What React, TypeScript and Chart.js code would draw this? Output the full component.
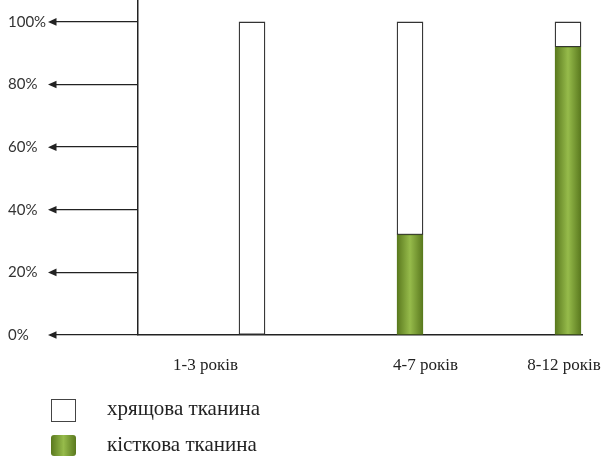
import React, { useEffect, useRef } from 'react';
import { Chart, registerables } from 'chart.js';

Chart.register(...registerables);

// ---- data ----
const categories = ['1-3 років', '4-7 років', '8-12 років'];
const seriesNames = ['хрящова тканина', 'кісткова тканина'];
const cartilage = [100, 68, 8];
const bone = [0, 32, 92];
const yTickValues = [0, 20, 40, 60, 80, 100];

// ---- layout (not data) ----
const X_MIN = 0.2785;
const X_MAX = 3.0886;
const labelShift = [-0.294, 0.098, -0.025];
const BAR_W = 26;

const greenStops: [number, string][] = [
  [0, '#5a791e'],
  [0.5, '#96bb4b'],
  [1, '#5a791e'],
];

export default function App() {
  const ref = useRef<HTMLCanvasElement>(null);

  useEffect(() => {
    document.body.style.margin = '0';
    const canvas = ref.current;
    if (!canvas) return;

    const arrows = {
      id: 'arrows',
      afterDraw(chart: any) {
        const ys = chart.scales.y;
        const c = chart.ctx;
        const tipX = ys.right - ys.options.grid.tickLength - 6;
        c.save();
        c.fillStyle = '#222';
        ys.ticks.forEach((t: any) => {
          const y = ys.getPixelForValue(t.value);
          c.beginPath();
          c.moveTo(tipX, y);
          c.lineTo(tipX + 8.5, y - 3.8);
          c.lineTo(tipX + 8.5, y + 3.8);
          c.closePath();
          c.fill();
        });
        c.restore();
      },
    };

    const greenFill = (ctx: any) => {
      const xs = ctx.chart.scales.x;
      if (!xs || ctx.dataIndex === undefined) return '#7fa53a';
      const cx = xs.getPixelForValue(ctx.dataIndex + 1);
      if (!Number.isFinite(cx)) return '#7fa53a';
      const g = ctx.chart.ctx.createLinearGradient(cx - BAR_W / 2, 0, cx + BAR_W / 2, 0);
      greenStops.forEach(([o, col]) => g.addColorStop(o, col));
      return g;
    };

    const chart = new Chart(canvas, {
      type: 'bar',
      data: {
        datasets: [
          {
            label: seriesNames[1],
            data: bone.map((v, i) => ({ x: i + 1, y: v })),
            backgroundColor: greenFill,
            borderColor: '#587a1c',
            borderWidth: 0.8,
            borderSkipped: false,
            barThickness: BAR_W,
          },
          {
            label: seriesNames[0],
            data: cartilage.map((v, i) => ({ x: i + 1, y: v })),
            backgroundColor: '#ffffff',
            borderColor: '#333333',
            borderWidth: 1.3,
            borderSkipped: false,
            barThickness: BAR_W,
          },
        ],
      } as any,
      options: {
        responsive: false,
        animation: false,
        layout: { padding: { left: 8, right: 24, top: 0, bottom: 0 } },
        plugins: {
          legend: { display: false },
          tooltip: { enabled: false },
        },
        scales: {
          x: {
            type: 'linear',
            stacked: true,
            offset: false,
            min: X_MIN,
            max: X_MAX,
            bounds: 'data',
            grid: { display: false, drawTicks: false, offset: false },
            border: { display: true, color: '#222', width: 1.5 },
            afterBuildTicks: (s: any) => {
              s.ticks = categories.map((_, i) => ({ value: i + 1 + labelShift[i] }));
            },
            afterFit: (s: any) => {
              s.height = 122;
              s.paddingLeft = 0;
              s.paddingRight = 0;
            },
            ticks: {
              autoSkip: false,
              maxRotation: 0,
              minRotation: 0,
              padding: 20,
              color: '#222',
              font: { family: "'Liberation Serif', 'DejaVu Serif', serif", size: 17 },
              callback: (_v: any, i: number) => categories[i],
            },
          },
          y: {
            type: 'linear',
            stacked: true,
            min: 0,
            max: 107,
            grid: { drawOnChartArea: false, drawTicks: true, tickLength: 84, color: '#222', lineWidth: 1.3 },
            border: { display: true, color: '#222', width: 1.5 },
            afterBuildTicks: (s: any) => {
              s.ticks = yTickValues.map((v) => ({ value: v }));
            },
            afterFit: (s: any) => {
              s.width = 130;
              s.paddingTop = 0;
              s.paddingBottom = 0;
            },
            ticks: {
              crossAlign: 'far',
              color: '#333',
              font: { family: "Lato, 'Open Sans', sans-serif", size: 15 },
              callback: (v: any) => v + '%',
            },
          },
        },
      } as any,
      plugins: [arrows],
    });

    return () => chart.destroy();
  }, []);

  const textStyle: React.CSSProperties = {
    position: 'absolute',
    left: 107,
    fontFamily: "'Liberation Serif', 'DejaVu Serif', serif",
    fontSize: 21,
    lineHeight: '24px',
    color: '#222',
    whiteSpace: 'nowrap',
  };

  return (
    <div style={{ position: 'relative', width: 606, height: 457, overflow: 'hidden', background: '#fff' }}>
      <canvas ref={ref} width={606} height={457} style={{ display: 'block', width: 606, height: 457 }} />
      <div
        style={{
          position: 'absolute',
          left: 51,
          top: 399,
          width: 25,
          height: 23,
          boxSizing: 'border-box',
          border: '1.5px solid #444',
          background: '#fff',
        }}
      />
      <div style={{ ...textStyle, top: 396 }}>{seriesNames[0]}</div>
      <div
        style={{
          position: 'absolute',
          left: 51,
          top: 435,
          width: 25,
          height: 21,
          borderRadius: 3,
          background: `linear-gradient(90deg, ${greenStops[0][1]}, ${greenStops[1][1]}, ${greenStops[2][1]})`,
        }}
      />
      <div style={{ ...textStyle, top: 432 }}>{seriesNames[1]}</div>
    </div>
  );
}
